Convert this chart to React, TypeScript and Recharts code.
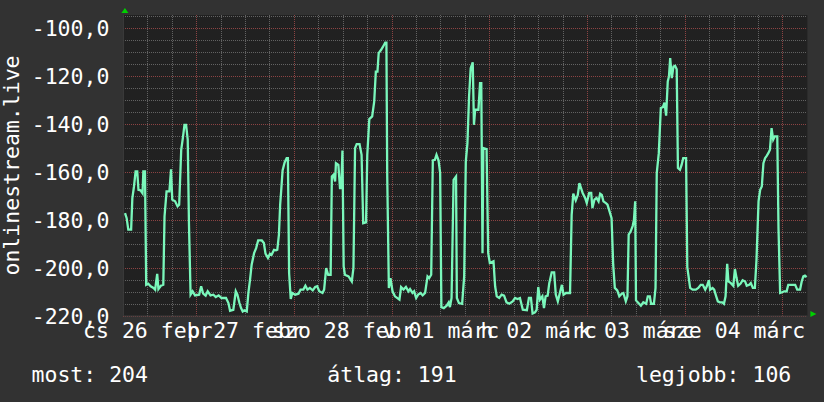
import { CartesianGrid, Line, LineChart, ReferenceDot, XAxis, YAxis } from "recharts";

const FONT = '"DejaVu Sans Mono", monospace';

// hours since 26 febr 06:00, one label per day at noon
const dayLabels = ["cs 26 febr", "p 27 febr", "szo 28 febr", "v 01 márc", "h 02 márc", "k 03 márc", "sze 04 márc"];
const dayLabelHours = [6, 30, 54, 78, 102, 126, 150];
const midnightHours = [18, 42, 66, 90, 114, 138, 162];
const sixHourMarks = [6, 12, 18, 24, 30, 36, 42, 48, 54, 60, 66, 72, 78, 84, 90, 96, 102, 108, 114, 120, 126, 132, 138, 144, 150, 156, 162];

const rankTicks = [-220, -200, -180, -160, -140, -120, -100];
const rankFineGrid = [-215, -210, -205, -200, -195, -190, -185, -180, -175, -170, -165, -160, -155, -150, -145, -140, -135, -130, -125, -120, -115, -110, -105, -100, -95];

const stats = [
  { label: "most", value: 204 },
  { label: "átlag", value: 191 },
  { label: "legjobb", value: 106 },
];

// [hour, rank]
const rankTrace: [number, number][] = [
  [0.4, -177.1], [0.8, -179.2], [1.2, -184], [1.9, -184], [2.2, -170.8], [2.6, -166], [3.0, -159.7], [3.4, -159.7],
  [3.7, -167.4], [4.2, -167.6], [4.7, -168.8], [4.9, -159.7], [5.3, -159.7], [5.6, -207], [6.1, -206.5], [6.7, -207.6],
  [7.4, -208.3], [7.8, -209], [8.3, -202.4], [8.6, -208.8], [9.2, -207.4], [9.8, -207], [10.1, -178.5], [10.6, -168],
  [11.3, -168], [11.7, -158.8], [12.0, -171.5], [12.7, -172.2], [13.3, -174.3], [13.7, -173.6], [14.2, -150.7], [14.6, -145.8],
  [15.0, -140.3], [15.4, -140.3], [15.8, -146.5], [16.1, -181.3], [16.5, -211.1], [17.0, -209.7], [17.6, -211.4], [18.6, -211.1],
  [19.1, -207.6], [19.6, -210.7], [20.2, -211.5], [20.7, -209.7], [21.4, -211.4], [22.1, -211.1], [22.7, -212.1], [23.4, -211.4],
  [24.1, -212.5], [25.2, -212.5], [25.8, -214.6], [26.2, -217.8], [27.0, -217.4], [27.6, -209.7], [28.0, -211.1], [28.5, -214.6],
  [28.9, -216.7], [29.3, -218.1], [29.7, -217.6], [30.3, -218.1], [30.7, -210.4], [31.1, -204.9], [31.5, -198.6], [32.1, -193.8],
  [32.6, -191.7], [33.1, -188.5], [34.0, -188.5], [34.5, -189.6], [34.9, -194], [35.5, -195.8], [36.0, -194], [36.4, -194.5],
  [37.0, -192.4], [37.5, -192.6], [37.8, -192.4], [38.2, -186.1], [38.5, -173.6], [38.8, -166.7], [39.1, -159.3], [39.6, -156],
  [40.1, -154.2], [40.4, -154.2], [40.7, -202.1], [41.1, -212.9], [41.5, -210.4], [42.2, -211.1], [43.0, -210.7], [43.5, -209],
  [44.2, -209], [44.7, -207.4], [45.2, -209], [45.8, -208.3], [46.5, -209.3], [47.1, -207.9], [47.6, -207.6], [48.1, -209.7],
  [48.9, -210.4], [49.3, -209], [49.8, -200], [50.3, -202.8], [50.9, -202.8], [51.2, -161.8], [51.6, -161.1], [52.0, -163.9],
  [52.2, -156.3], [52.8, -157], [53.2, -166.7], [53.5, -166.7], [53.8, -151], [54.1, -199.3], [54.4, -202.8], [55.3, -203.5],
  [56.1, -205.6], [56.5, -200], [56.9, -150], [57.3, -148.3], [58.0, -148.3], [58.5, -152.8], [58.9, -181.3], [59.6, -181],
  [59.9, -152.8], [60.4, -137.9], [61.1, -136.8], [61.6, -130.6], [62.0, -118.1], [62.4, -118.1], [62.7, -110.4], [63.3, -109],
  [63.8, -107.6], [64.3, -106], [64.6, -106], [64.8, -161.8], [65.2, -208.3], [65.6, -204.2], [66.1, -209.7], [66.7, -211.8],
  [67.8, -213.2], [68.2, -207.9], [68.8, -209], [69.4, -207.9], [70.0, -209.7], [70.4, -208.8], [71.0, -210.4], [71.4, -209.7],
  [71.9, -212.5], [72.4, -211.1], [73.0, -210.4], [73.5, -211.4], [74.1, -210.4], [74.7, -203.5], [75.1, -204.2], [75.6, -202.8],
  [76.0, -155.1], [76.5, -154.9], [76.9, -152.8], [77.4, -155.1], [77.8, -160.4], [78.1, -216.3], [78.7, -216.7], [79.4, -215.7],
  [79.9, -214.3], [80.2, -216.3], [80.6, -212.5], [81.1, -163.2], [81.7, -161.8], [81.9, -212.5], [82.4, -214.6], [83.2, -214.9],
  [83.7, -203.5], [84.1, -155.6], [84.5, -147.9], [84.9, -128.5], [85.3, -116.7], [85.8, -114.2], [86.1, -140.3], [86.4, -134],
  [87.2, -134], [87.6, -122.9], [87.9, -122.9], [88.2, -193.8], [88.4, -150], [89.2, -150.4], [89.6, -193.8], [90.0, -197.9],
  [90.9, -197.2], [91.3, -207.6], [91.7, -211.8], [92.3, -212.5], [92.9, -211.1], [93.5, -211.5], [94.1, -214.3], [94.8, -214.9],
  [95.6, -213.9], [96.2, -212.5], [96.8, -212.9], [97.4, -212.5], [98.1, -217.4], [99.1, -217.6], [99.6, -212.5], [100.1, -212.5],
  [100.5, -219], [101.1, -218.5], [101.5, -217.4], [101.9, -207.9], [102.3, -213.2], [102.9, -211.8], [103.3, -216.7], [103.7, -211.8],
  [104.2, -211.5], [104.6, -206.3], [105.2, -201.8], [105.8, -201.8], [106.2, -211.1], [106.7, -213.9], [107.2, -210.4], [107.7, -207],
  [108.1, -211.1], [108.7, -210.4], [109.7, -210.4], [110.1, -177.8], [110.5, -169], [111.1, -171.8], [111.6, -169.5], [112.0, -164.6],
  [112.8, -168.7], [113.4, -170.8], [113.8, -172.9], [114.4, -168.7], [114.9, -168.7], [115.2, -175], [115.7, -171.5], [116.2, -170.8],
  [116.7, -172.2], [117.1, -169], [117.5, -169.5], [117.9, -172.2], [118.5, -172.9], [118.9, -173.6], [119.4, -176.4], [119.9, -179.2],
  [120.3, -198.6], [120.7, -208.3], [121.3, -209.3], [121.8, -211.8], [122.4, -210.7], [122.8, -210.4], [123.4, -213.9], [123.8, -211.8],
  [124.1, -186.1], [124.6, -184.7], [125.1, -182.4], [125.4, -179.9], [125.7, -172.2], [125.9, -213.5], [126.5, -214.6], [127.1, -215.7],
  [127.7, -214.3], [128.4, -214.9], [128.8, -211.8], [129.3, -211.8], [129.6, -214.9], [130.3, -214.9], [130.7, -208.3], [131.0, -160.4],
  [131.5, -152.1], [132.0, -133.3], [132.5, -132.9], [132.9, -131], [133.3, -136.5], [133.7, -122.2], [134.0, -120.1], [134.3, -112.5],
  [134.7, -120.8], [135.1, -116], [135.5, -115.7], [135.9, -117.1], [136.2, -158.3], [136.7, -159], [137.1, -157], [137.5, -154.2],
  [138.2, -154.2], [138.5, -199.6], [139.2, -208.3], [139.8, -209], [140.6, -209], [141.2, -208.3], [141.8, -207], [142.3, -207],
  [142.9, -209], [143.3, -207.6], [143.8, -205.1], [144.1, -209], [144.7, -208.3], [145.1, -209], [145.6, -211.8], [146.0, -213.9],
  [146.5, -214.3], [147.1, -214.3], [147.5, -214.9], [147.9, -211.8], [148.3, -198.2], [148.6, -205.6], [149.2, -206.3], [149.8, -207.4],
  [150.2, -200.4], [150.6, -204.2], [151.0, -207.4], [151.6, -206.5], [152.1, -205.1], [152.7, -205.6], [153.1, -207.4], [153.7, -207],
  [154.1, -206.3], [154.6, -208.3], [155.1, -208.3], [155.5, -196.5], [156.0, -172.2], [156.4, -167.4], [156.8, -166], [157.2, -156.3],
  [157.6, -154.2], [158.0, -153.2], [158.4, -152.1], [158.8, -150.7], [159.2, -141.7], [159.6, -146.5], [160.0, -145.1], [160.6, -145.1],
  [160.9, -183.3], [161.3, -210.4], [161.8, -210.1], [162.3, -209.7], [162.9, -209.7], [163.3, -207], [164.1, -207], [165.0, -207],
  [165.5, -209], [166.2, -209], [166.6, -205.6], [167.0, -203.5], [167.4, -203.2], [167.8, -203.8],
];

const chartData = rankTrace.map(([hour, rank]) => ({ hour, rank }));

const upArrow = ({ cx, cy }: { cx: number; cy: number }) => (
  <polygon points={`${cx - 2},${cy - 2} ${cx + 5},${cy - 2} ${cx + 1.5},${cy - 7}`} fill="#00d000" />
);
const rightArrow = ({ cx, cy }: { cx: number; cy: number }) => (
  <polygon points={`${cx + 3},${cy - 5} ${cx + 3},${cy + 1} ${cx + 9},${cy - 2}`} fill="#00d000" />
);

export default function App() {
  return (
    <div style={{ position: "absolute", left: 0, top: 0, width: 824, height: 402, background: "#323232", fontFamily: FONT }}>
      <LineChart width={824} height={402} data={chartData} margin={{ top: 15, right: 16.6, left: 0, bottom: 56 }}>
        <CartesianGrid
          fill="#212121"
          stroke="#626262"
          strokeDasharray="1 1"
          horizontalValues={rankFineGrid}
          verticalValues={sixHourMarks}
          shapeRendering="crispEdges"
        />
        <CartesianGrid
          stroke="#8c4343"
          strokeDasharray="1 1"
          horizontalValues={rankTicks}
          verticalValues={midnightHours}
          shapeRendering="crispEdges"
        />
        <XAxis
          dataKey="hour"
          type="number"
          domain={[0, 168]}
          ticks={dayLabelHours}
          interval={0}
          height={30}
          tickSize={0}
          tickMargin={7}
          axisLine={{ stroke: "#3c3c3c" }}
          tick={{ fill: "#ffffff", fontSize: 21.5, fontFamily: FONT }}
          tickFormatter={(v: number) => dayLabels[dayLabelHours.indexOf(v)]}
        />
        <YAxis
          type="number"
          domain={[-220, -94.5]}
          ticks={rankTicks}
          interval={0}
          allowDataOverflow
          width={123.4}
          tickSize={0}
          tickMargin={14}
          axisLine={{ stroke: "#3c3c3c" }}
          tick={{ fill: "#ffffff", fontSize: 21.5, fontFamily: FONT }}
          tickFormatter={(v: number) => v.toFixed(1).replace(".", ",")}
          label={{
            content: ({ viewBox }: any) => {
              const cy = viewBox.y + viewBox.height / 2;
              return (
                <text x={18.5} y={cy} transform={`rotate(-90 18.5 ${cy})`} textAnchor="middle" fill="#ffffff" fontSize={21.5} fontFamily={FONT}>
                  onlinestream.live
                </text>
              );
            },
          }}
        />
        <Line type="linear" dataKey="rank" stroke="#7af7bb" strokeWidth={2.3} dot={false} isAnimationActive={false} />
        <ReferenceDot x={0} y={-94.5} ifOverflow="visible" shape={upArrow} />
        <ReferenceDot x={168} y={-220} ifOverflow="visible" shape={rightArrow} />
      </LineChart>
      <div
        style={{
          position: "absolute",
          left: 0,
          top: 363.5,
          width: 824,
          boxSizing: "border-box",
          padding: "0 32.7px 0 31.5px",
          display: "flex",
          justifyContent: "space-between",
          color: "#ffffff",
          fontSize: 21.5,
          lineHeight: "21.5px",
          whiteSpace: "pre",
        }}
      >
        {stats.map((s) => (
          <span key={s.label}>{`${s.label}: ${s.value}`}</span>
        ))}
      </div>
    </div>
  );
}
